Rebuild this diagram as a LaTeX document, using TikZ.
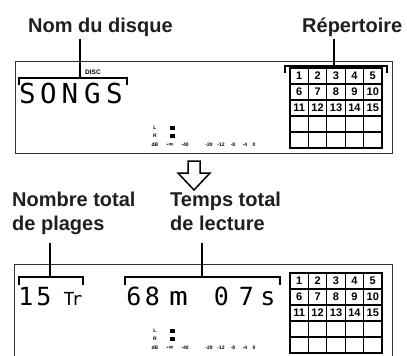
\documentclass[tikz,border=0pt]{standalone}
\usepackage{fontspec}
\usepackage{graphicx}
\setmainfont{Liberation Sans}
\newfontfamily\lcdfont{DejaVu Sans Mono}
\newfontfamily\djfont{DejaVu Sans}
\usetikzlibrary{calc}
\begin{document}
\begin{tikzpicture}[x=1pt,y=-1pt,
  lbl/.style={font=\bfseries\fontsize{20}{24}\selectfont, text=black!88, inner sep=0pt, anchor=base west},
  lead/.style={line width=2.5pt},
  brk/.style={line width=2.5pt},
  panel/.style={draw=black!80, line width=0.9pt},
  cell/.style={draw, line width=1.1pt, minimum width=18.4pt, minimum height=16pt, inner sep=0pt, font=\bfseries\fontsize{11}{11}\selectfont},
  lcdbig/.style={font=\lcdfont\fontsize{27.5}{27.5}\selectfont, inner sep=0pt, anchor=base},
  lcdmid/.style={font=\lcdfont\fontsize{25}{25}\selectfont, inner sep=0pt, anchor=base},
  lcdsm/.style={font=\lcdfont\fontsize{18}{18}\selectfont, inner sep=0pt, anchor=base},
  tinytxt/.style={font=\bfseries\fontsize{5}{5}\selectfont, inner sep=0pt},
  blk/.style={fill=black, minimum width=5pt, minimum height=4.5pt, inner sep=0pt}]
\useasboundingbox (0,0) rectangle (407,356);

% ---------- top labels ----------
\node[lbl] (nom) at (28,32) {Nom du disque};
\node[lbl] (rep) at (302,32) {Répertoire};

% ---------- top panel ----------
\draw[panel] (15,61) rectangle (392,153);
\node[tinytxt, font=\bfseries\fontsize{6.5}{6.5}\selectfont] (disc) at (93,72) {DISC};
\node[lcdbig] (s1) at (27.5,103) {S};
\node[lcdbig] (s2) at (48.5,103) {O};
\node[lcdbig] (s3) at (70,103) {N};
\node[lcdbig] (s4) at (92.5,103) {G};
\node[lcdbig] (s5) at (114.5,103) {S};

\coordinate (b1) at (80,78);
\draw[brk] (19,85) -- (19,78) -- (127,78) -- (127,85);
\draw[lead] ($(nom.base -| b1)+(0,7)$) -- (b1);

\coordinate (b2) at (334,66);
\draw[brk] (285,73) -- (285,66) -- (387,66) -- (387,73);
\draw[lead] ($(rep.base -| b2)+(0,7)$) -- (b2);

\foreach \r in {1,...,5}{\foreach \c in {1,...,5}{
  \pgfmathtruncatemacro\n{(\r-1)*5+\c}
  \ifnum\r<4 \def\t{\n}\else\def\t{}\fi
  \node[cell] (ta\n) at ({290+18.4*(\c-0.5)},{68+16*(\r-0.5)}) {\t};
}}

% meters
\foreach \T/\p in {61/t,264/b}{
  \node[tinytxt] (\p L) at (155,\T+67) {L};
  \node[tinytxt] (\p R) at (155,\T+75) {R};
  \node[tinytxt] (\p dB) at (155,\T+84) {dB};
  \node[blk] (\p bl) at (172.5,\T+67) {};
  \node[blk] (\p br) at (172.5,\T+75) {};
  \node[tinytxt, font=\djfont\bfseries\fontsize{6}{6}\selectfont] (\p inf) at (170,\T+84) {-∞};
  \node[tinytxt] (\p m40) at (185,\T+84) {-40};
  \node[tinytxt] (\p m20) at (209,\T+84) {-20};
  \node[tinytxt] (\p m12) at (221,\T+84) {-12};
  \node[tinytxt] (\p m8) at (233,\T+84) {-8};
  \node[tinytxt] (\p m4) at (245,\T+84) {-4};
  \node[tinytxt] (\p z) at (254,\T+84) {0};
}

% ---------- down arrow ----------
\draw[line width=1.5pt, fill=white, line join=miter] (188,161) -- (200,161) -- (200,173) -- (210,173) -- (194,190) -- (178,173) -- (188,173) -- cycle;

% ---------- bottom labels ----------
\node[lbl] (nbr1) at (12,206) {Nombre total};
\node[lbl] (nbr) at (12,230) {de plages};
\node[lbl] (tmp1) at (170,206) {Temps total};
\node[lbl] (tmp) at (170,230) {de lecture};

% ---------- bottom panel ----------
\draw[panel] (14,360) -- (14,264) -- (392,264) -- (392,360);

\node[lcdmid] (d1) at (26,305) {1};
\node[lcdmid] (d2) at (44,305) {5};
\node[lcdsm] (d3) at (69,305) {T};
\node[lcdsm] (d4) at (77,305) {r};
\node[lcdmid] (d5) at (134,305) {6};
\node[lcdmid] (d6) at (152.5,305) {8};
\node[lcdmid] (d7) at (178.5,305) {\scalebox{1.25}[1]{m}};
\node[lcdmid] (d8) at (221.5,305) {0};
\node[lcdmid] (d9) at (246.5,305) {7};
\node[lcdmid] (d10) at (268,305) {s};

\coordinate (b3) at (50,277);
\draw[brk] (19,285) -- (19,277) -- (83,277) -- (83,285);
\draw[lead] ($(nbr.base -| b3)+(0,13)$) -- (b3);

\coordinate (b4) at (202,277);
\draw[brk] (125,285) -- (125,277) -- (280,277) -- (280,285);
\draw[lead] ($(tmp.base -| b4)+(0,13)$) -- (b4);

\foreach \r in {1,...,5}{\foreach \c in {1,...,5}{
  \pgfmathtruncatemacro\n{(\r-1)*5+\c}
  \ifnum\r<4 \def\t{\n}\else\def\t{}\fi
  \node[cell] (ba\n) at ({290+18.4*(\c-0.5)},{273+16*(\r-0.5)}) {\t};
}}
\end{tikzpicture}
\end{document}
